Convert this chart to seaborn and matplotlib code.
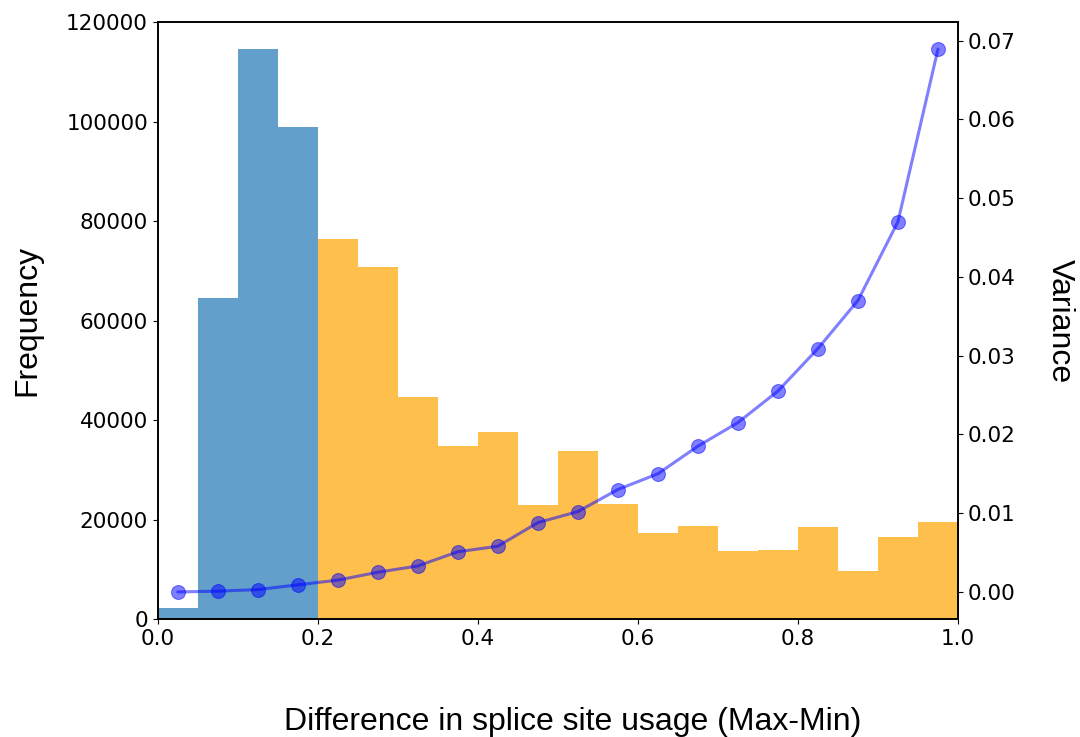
import numpy as np
import matplotlib
matplotlib.use('Agg')
import matplotlib.pyplot as plt
import seaborn as sns

# histogram bins (width 0.05) and counts
bin_edges = [round(0.05 * i, 2) for i in range(21)]
bin_centers = [round(0.025 + 0.05 * i, 3) for i in range(20)]
counts = [2200, 64500, 114500, 99000, 76500, 70700, 44600, 34700, 37700, 22900,
          33700, 23100, 17300, 18800, 13700, 13900, 18500, 9600, 16500, 19500]

# variance per bin (right axis)
variance = [0.0000, 0.0001, 0.0003, 0.0009, 0.0015, 0.0025, 0.0033, 0.0051, 0.0058, 0.0088,
            0.0102, 0.0130, 0.0150, 0.0185, 0.0215, 0.0255, 0.0309, 0.0370, 0.0470, 0.0689]

cutoff = 0.2

sns.set_style("ticks", rc={'text.color': 'black', 'axes.labelcolor': 'black',
                           'xtick.color': 'black', 'ytick.color': 'black',
                           'axes.edgecolor': 'black'})
plt.rcParams['font.family'] = ['DejaVu Sans']

fig, ax = plt.subplots(figsize=(10.8, 7.37), dpi=100)
fig.subplots_adjust(left=0.146, right=0.887, top=0.970, bottom=0.160)

low = [i for i, c in enumerate(bin_centers) if c < cutoff]
high = [i for i, c in enumerate(bin_centers) if c >= cutoff]

sns.histplot(x=[bin_centers[i] for i in low], weights=[counts[i] for i in low],
             bins=bin_edges, color='tab:blue', alpha=0.7, linewidth=0, ax=ax)
sns.histplot(x=[bin_centers[i] for i in high], weights=[counts[i] for i in high],
             bins=bin_edges, color='orange', alpha=0.7, linewidth=0, ax=ax)

ax.set_xlim(0, 1)
ax.set_ylim(0, 120000)
ax.set_xlabel('Difference in splice site usage (Max-Min)', family='Liberation Sans',
              fontsize=23, labelpad=42)
ax.xaxis.set_label_coords(0.519, -0.148)
ax.set_ylabel('Frequency', family='Liberation Sans', fontsize=23, labelpad=17)
ax.tick_params(labelsize=15.5)

ax2 = ax.twinx()
sns.lineplot(x=bin_centers, y=variance, marker='o', color='blue', alpha=0.5,
             markersize=10, markeredgecolor='blue', linewidth=2.2, ax=ax2)
ax2.set_ylabel('Variance', family='Liberation Sans', fontsize=23, rotation=270,
               labelpad=43)
ax2.tick_params(labelsize=15.5)

for a in (ax, ax2):
    for s in a.spines.values():
        s.set_visible(True)
        s.set_color('black')
        s.set_linewidth(1.2)

fig.savefig('out.png', dpi=100)
